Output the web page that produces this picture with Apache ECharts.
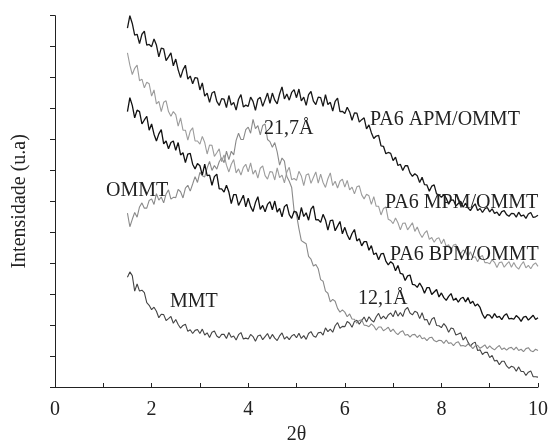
<!DOCTYPE html>
<html>
<head>
<meta charset="utf-8">
<script src="https://cdn.jsdelivr.net/npm/echarts@6/dist/echarts.min.js"></script>
<style>
  html, body { margin: 0; padding: 0; background: #fff; }
  #main { width: 551px; height: 440px; }
</style>
</head>
<body>
<div id="main"></div>
<script>
// scan starts at 2θ = 1.5 and is sampled every 0.05
var x0 = 1.5;
var dx = 0.05;

var xTicks = [0, 2, 4, 6, 8, 10];

// PA6 APM/OMMT
var apm = [
  11.6, 12.0, 11.75, 11.37, 11.4, 11.1, 11.4, 11.5, 11.05, 11.07,
  11.0, 11.25, 11.05, 10.67, 10.95, 10.93, 10.55, 10.67, 10.8, 10.38,
  10.6, 10.25, 10.0, 10.25, 10.4, 9.95, 10.05, 9.8, 10.0, 9.98,
  9.6, 9.83, 9.4, 9.5, 9.2, 9.5, 9.55, 9.23, 9.1, 9.32,
  9.3, 9.03, 9.42, 9.11, 9.2, 8.95, 9.3, 9.45, 9.05, 9.11,
  9.07, 9.37, 9.23, 8.94, 9.3, 9.36, 9.07, 9.28, 9.5, 9.17,
  9.5, 9.27, 9.15, 9.47, 9.7, 9.31, 9.47, 9.27, 9.52, 9.61,
  9.35, 9.63, 9.25, 9.37, 9.1, 9.45, 9.55, 9.24, 9.13, 9.37,
  9.35, 9.07, 9.45, 9.13, 9.2, 8.92, 9.23, 9.34, 8.9, 8.91,
  8.84, 9.04, 8.89, 8.62, 8.86, 8.85, 8.56, 8.64, 8.7, 8.34,
  8.47, 8.22, 8.03, 8.11, 8.13, 7.79, 7.78, 7.54, 7.58, 7.55,
  7.32, 7.43, 7.16, 7.2, 7.0, 7.15, 7.15, 6.92, 6.81, 6.89,
  6.83, 6.61, 6.78, 6.54, 6.53, 6.33, 6.49, 6.53, 6.24, 6.21,
  6.13, 6.22, 6.1, 5.91, 6.05, 6.04, 5.85, 5.93, 6.0, 5.81,
  5.94, 5.79, 5.7, 5.83, 5.92, 5.7, 5.77, 5.64, 5.76, 5.8,
  5.66, 5.76, 5.61, 5.65, 5.54, 5.67, 5.7, 5.57, 5.52, 5.61,
  5.6, 5.49, 5.65, 5.52, 5.56, 5.45, 5.59, 5.64, 5.48, 5.5,
  5.55
];

// PA6 MPM/OMMT
var mpm = [
  10.8, 10.4, 10.1, 10.3, 10.4, 9.9, 9.95, 9.67, 9.85, 9.8,
  9.4, 9.6, 9.15, 9.23, 8.9, 9.2, 9.25, 8.9, 8.75, 8.9,
  8.8, 8.43, 8.7, 8.3, 8.3, 7.98, 8.27, 8.38, 7.95, 7.95,
  7.85, 8.1, 7.9, 7.53, 7.82, 7.81, 7.45, 7.57, 7.7, 7.28,
  7.5, 7.17, 6.95, 7.2, 7.35, 6.92, 7.05, 6.85, 7.1, 7.2,
  6.95, 7.24, 6.88, 7.01, 6.75, 7.07, 7.15, 6.83, 6.72, 6.96,
  6.95, 6.69, 7.08, 6.77, 6.85, 6.6, 6.95, 7.1, 6.7, 6.74,
  6.68, 6.97, 6.82, 6.51, 6.85, 6.89, 6.58, 6.77, 6.95, 6.59,
  6.88, 6.61, 6.45, 6.73, 6.92, 6.51, 6.65, 6.43, 6.65, 6.72,
  6.46, 6.68, 6.37, 6.46, 6.24, 6.47, 6.5, 6.21, 6.08, 6.23,
  6.18, 5.9, 6.15, 5.84, 5.84, 5.56, 5.77, 5.82, 5.42, 5.38,
  5.28, 5.46, 5.31, 5.08, 5.29, 5.3, 5.08, 5.19, 5.31, 5.03,
  5.17, 4.97, 4.83, 4.97, 5.05, 4.77, 4.83, 4.68, 4.79, 4.82,
  4.63, 4.78, 4.54, 4.6, 4.41, 4.59, 4.61, 4.4, 4.31, 4.43,
  4.38, 4.21, 4.37, 4.19, 4.21, 4.05, 4.2, 4.25, 4.02, 4.02,
  3.98, 4.11, 4.03, 3.86, 4.02, 4.04, 3.87, 3.97, 4.05, 3.87,
  4.02, 3.88, 3.81, 3.95, 4.05, 3.85, 3.93, 3.82, 3.95, 4.01,
  3.9
];

// PA6 BPM/OMMT
var bpm = [
  8.9, 9.35, 9.1, 8.7, 8.95, 8.9, 8.5, 8.63, 8.75, 8.3,
  8.5, 8.17, 7.95, 8.18, 8.32, 7.86, 7.95, 7.7, 7.9, 7.95,
  7.65, 7.9, 7.5, 7.57, 7.25, 7.53, 7.55, 7.2, 7.05, 7.22,
  7.15, 6.85, 7.2, 6.83, 6.85, 6.52, 6.8, 6.88, 6.4, 6.4,
  6.3, 6.52, 6.3, 5.93, 6.22, 6.22, 5.87, 6.03, 6.2, 5.82,
  6.1, 5.83, 5.67, 5.96, 6.15, 5.74, 5.87, 5.66, 5.9, 5.99,
  5.73, 6.01, 5.65, 5.77, 5.5, 5.83, 5.9, 5.57, 5.45, 5.68,
  5.65, 5.4, 5.8, 5.51, 5.63, 5.39, 5.75, 5.85, 5.4, 5.41,
  5.32, 5.58, 5.4, 5.07, 5.38, 5.39, 5.05, 5.2, 5.35, 4.95,
  5.16, 4.92, 4.76, 4.96, 5.09, 4.72, 4.79, 4.56, 4.7, 4.7,
  4.42, 4.57, 4.28, 4.33, 4.11, 4.3, 4.32, 4.07, 3.95, 4.05,
  3.98, 3.76, 3.93, 3.67, 3.65, 3.44, 3.59, 3.62, 3.32, 3.3,
  3.22, 3.36, 3.23, 3.03, 3.21, 3.21, 2.99, 3.07, 3.15, 2.91,
  3.04, 2.89, 2.8, 2.93, 3.02, 2.8, 2.87, 2.74, 2.86, 2.9,
  2.75, 2.89, 2.7, 2.77, 2.62, 2.68, 2.57, 2.35, 2.22, 2.34,
  2.32, 2.22, 2.37, 2.25, 2.28, 2.18, 2.31, 2.37, 2.2, 2.22,
  2.19, 2.31, 2.24, 2.12, 2.26, 2.28, 2.16, 2.24, 2.32, 2.18,
  2.24
];

// OMMT
var ommt = [
  5.62, 5.18, 5.42, 5.64, 5.49, 5.82, 5.95, 5.78, 5.78, 6.03,
  6.08, 5.9, 6.25, 6.04, 6.14, 5.95, 6.24, 6.37, 6.07, 6.13,
  6.12, 6.39, 6.31, 6.11, 6.43, 6.52, 6.33, 6.56, 6.8, 6.61,
  6.94, 6.83, 6.79, 7.08, 7.29, 7.0, 7.16, 7.04, 7.28, 7.41,
  7.25, 7.62, 7.35, 7.62, 7.5, 7.97, 8.2, 8.0, 8.0, 8.32,
  8.4, 8.2, 8.65, 8.35, 8.45, 8.15, 8.45, 8.5, 8.0, 7.93,
  7.75, 7.9, 7.6, 7.17, 7.4, 7.3, 6.8, 6.65, 6.45, 5.7,
  5.57, 5.12, 4.73, 4.68, 4.63, 4.22, 4.13, 3.91, 3.96, 3.82,
  3.47, 3.42, 3.1, 3.03, 2.75, 2.83, 2.77, 2.54, 2.42, 2.49,
  2.42, 2.27, 2.36, 2.2, 2.19, 2.06, 2.15, 2.17, 2.0, 1.99,
  1.95, 2.04, 1.97, 1.84, 1.94, 1.94, 1.82, 1.87, 1.93, 1.79,
  1.87, 1.76, 1.69, 1.78, 1.82, 1.67, 1.7, 1.61, 1.69, 1.7,
  1.6, 1.68, 1.56, 1.59, 1.5, 1.59, 1.61, 1.5, 1.46, 1.51,
  1.5, 1.41, 1.52, 1.41, 1.43, 1.34, 1.43, 1.46, 1.33, 1.34,
  1.31, 1.39, 1.34, 1.24, 1.33, 1.35, 1.25, 1.3, 1.36, 1.24,
  1.33, 1.25, 1.2, 1.28, 1.34, 1.21, 1.26, 1.19, 1.26, 1.28,
  1.2, 1.29, 1.18, 1.22, 1.14, 1.24, 1.27, 1.17, 1.14, 1.22,
  1.18
];

// MMT
var mmt = [
  3.55, 3.72, 3.6, 3.1, 3.33, 3.1, 3.13, 3.05, 2.73, 2.64,
  2.5, 2.58, 2.45, 2.24, 2.35, 2.34, 2.15, 2.21, 2.28, 2.06,
  2.18, 2.02, 1.9, 1.99, 2.03, 1.8, 1.85, 1.73, 1.83, 1.86,
  1.73, 1.87, 1.68, 1.75, 1.6, 1.77, 1.81, 1.65, 1.59, 1.7,
  1.7, 1.57, 1.76, 1.61, 1.65, 1.52, 1.69, 1.76, 1.55, 1.58,
  1.55, 1.7, 1.63, 1.48, 1.65, 1.68, 1.53, 1.63, 1.73, 1.55,
  1.7, 1.58, 1.5, 1.65, 1.75, 1.55, 1.63, 1.53, 1.65, 1.7,
  1.59, 1.74, 1.57, 1.66, 1.54, 1.73, 1.79, 1.65, 1.61, 1.75,
  1.77, 1.68, 1.91, 1.79, 1.87, 1.77, 1.98, 2.08, 1.9, 1.96,
  1.95, 2.12, 2.06, 1.93, 2.12, 2.16, 2.03, 2.15, 2.26, 2.1,
  2.27, 2.16, 2.1, 2.27, 2.38, 2.2, 2.29, 2.2, 2.33, 2.39,
  2.27, 2.47, 2.29, 2.41, 2.28, 2.5, 2.57, 2.39, 2.33, 2.45,
  2.41, 2.21, 2.4, 2.17, 2.18, 2.0, 2.19, 2.25, 1.99, 1.98,
  1.92, 2.05, 1.95, 1.77, 1.91, 1.88, 1.68, 1.71, 1.75, 1.52,
  1.62, 1.45, 1.32, 1.41, 1.45, 1.18, 1.2, 1.05, 1.12, 1.12,
  0.95, 1.02, 0.84, 0.86, 0.72, 0.83, 0.83, 0.68, 0.6, 0.67,
  0.64, 0.51, 0.65, 0.5, 0.5, 0.37, 0.48, 0.52, 0.33, 0.33,
  0.32
];

var serif = "Liberation Serif";

function pairs(arr) {
  var out = [];
  for (var i = 0; i < arr.length; i++) {
    out.push([+(x0 + i * dx).toFixed(2), arr[i]]);
  }
  return out;
}

function line(name, arr, color, width) {
  return {
    name: name,
    type: "line",
    data: pairs(arr),
    showSymbol: false,
    symbol: "none",
    animation: false,
    lineStyle: { color: color, width: width },
    z: 2
  };
}

var myChart = echarts.init(document.getElementById("main"));

var label = function (text, x, y) {
  return {
    type: "text",
    x: x,
    y: y,
    z: 10,
    style: { text: text, font: "20px " + serif, fill: "#222", verticalAlign: "middle" }
  };
};

var option = {
  backgroundColor: "#fff",
  animation: false,
  grid: { left: 55, right: 13, top: 15.7, bottom: 53, outerBoundsMode: "none" },
  xAxis: {
    type: "value",
    min: 0,
    max: 10,
    interval: 1,
    name: "2θ",
    nameLocation: "middle",
    nameGap: 27,
    nameTextStyle: { fontFamily: serif, fontSize: 20, color: "#222" },
    axisLine: { lineStyle: { color: "#222", width: 1 } },
    axisTick: { inside: true, length: 4, lineStyle: { color: "#222" } },
    splitLine: { show: false },
    axisLabel: {
      margin: 13,
      fontFamily: serif,
      fontSize: 20,
      color: "#222",
      formatter: function (v) {
        return xTicks.indexOf(v) >= 0 ? String(v) : "";
      }
    }
  },
  yAxis: {
    type: "value",
    min: 0,
    max: 12,
    interval: 1,
    name: "Intensidade (u.a)",
    nameLocation: "middle",
    nameGap: 25,
    nameTextStyle: { fontFamily: serif, fontSize: 20, color: "#222" },
    axisLine: { show: true, lineStyle: { color: "#222", width: 1 } },
    axisTick: { show: true, inside: false, length: 5, lineStyle: { color: "#222" } },
    splitLine: { show: false },
    axisLabel: { show: false }
  },
  graphic: [
    label("PA6 APM/OMMT", 370, 120),
    label("21,7Å", 264, 129),
    label("OMMT", 106, 191),
    label("PA6 MPM/OMMT", 385, 203),
    label("PA6 BPM/OMMT", 390, 255),
    label("12,1Å", 358, 299),
    label("MMT", 170, 302)
  ],
  series: [
    line("MMT", mmt, "#444444", 1.1),
    line("OMMT", ommt, "#8a8a8a", 1.1),
    line("PA6 MPM/OMMT", mpm, "#9c9c9c", 1.1),
    line("PA6 BPM/OMMT", bpm, "#111111", 1.3),
    line("PA6 APM/OMMT", apm, "#181818", 1.3)
  ]
};

myChart.setOption(option);
</script>
</body>
</html>
